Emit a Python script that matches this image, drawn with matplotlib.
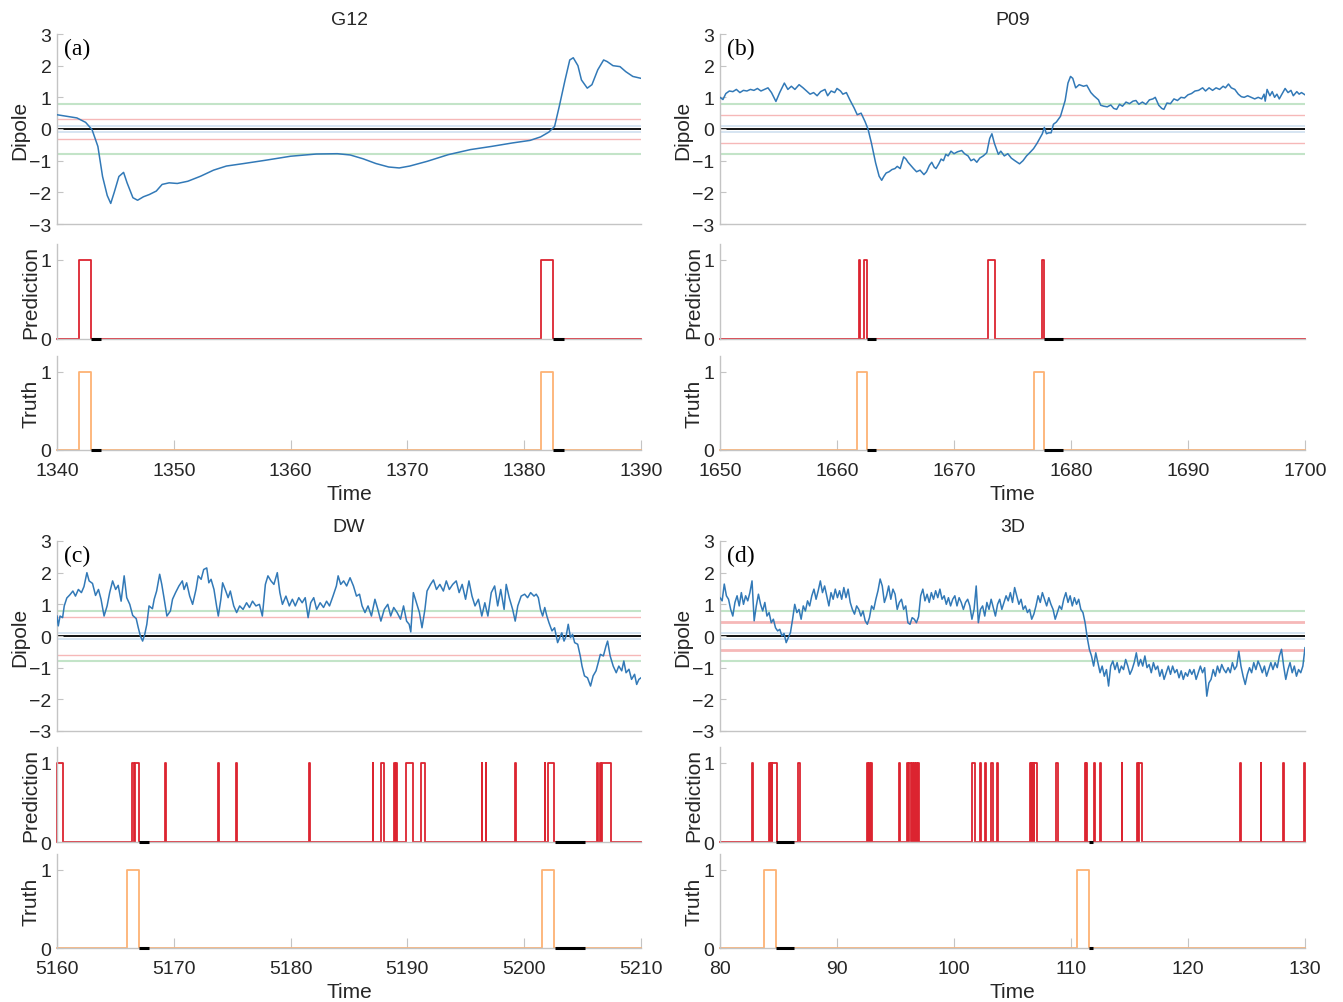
import numpy as np
import matplotlib
matplotlib.use("Agg")
import matplotlib.pyplot as plt

plt.rcParams['font.family'] = ['Liberation Sans', 'DejaVu Sans']

# ---- panel (a) G12 ----
t_a = [1340.0, 1341.7, 1342.45, 1343.0, 1343.5, 1343.9, 1344.3, 1344.6, 1344.9, 1345.3,
       1345.7, 1346.0, 1346.5, 1346.9, 1347.4, 1347.9, 1348.5, 1349.0, 1349.6, 1350.3,
       1351.2, 1352.3, 1353.4, 1354.5, 1356.0, 1357.8, 1360.0, 1362.2, 1364.0, 1365.1,
       1366.2, 1367.3, 1368.4, 1369.3, 1370.2, 1371.7, 1373.5, 1375.4, 1377.2, 1379.0,
       1380.5, 1381.4, 1382.1, 1382.6, 1383.0, 1383.5, 1383.9, 1384.2, 1384.6, 1384.9,
       1385.4, 1385.8, 1386.3, 1386.8, 1387.1, 1387.6, 1388.2, 1388.7, 1389.3, 1390.0]
dip_a = [0.45, 0.35, 0.21, -0.02, -0.55, -1.5, -2.1, -2.35, -2.0, -1.5,
         -1.37, -1.7, -2.17, -2.25, -2.14, -2.07, -1.96, -1.75, -1.7, -1.72,
         -1.65, -1.49, -1.3, -1.17, -1.09, -0.99, -0.86, -0.79, -0.78, -0.82,
         -0.94, -1.09, -1.2, -1.23, -1.17, -1.02, -0.81, -0.65, -0.55, -0.44,
         -0.36, -0.25, -0.1, 0.08, 0.71, 1.55, 2.18, 2.25, 2.0, 1.55,
         1.29, 1.4, 1.87, 2.18, 2.13, 2.0, 1.97, 1.81, 1.66, 1.6]
pred_a = [(1341.87, 1342.89), (1381.48, 1382.47)]
truth_a = [(1341.87, 1342.89), (1381.48, 1382.47)]
mark_a = [(1342.89, 1343.8), (1382.47, 1383.4)]

# ---- panel (b) P09 ----
t_b = [1650.0, 1650.25, 1650.5, 1650.8, 1651.1, 1651.4, 1651.7, 1652.0, 1652.3, 1652.6,
       1652.9, 1653.2, 1653.5, 1653.8, 1654.1, 1654.4, 1654.78, 1655.1, 1655.5, 1655.8,
       1656.1, 1656.4, 1656.76, 1657.1, 1657.4, 1657.7, 1658.0, 1658.3, 1658.6, 1658.97,
       1659.2, 1659.5, 1659.8, 1660.0, 1660.3, 1660.5, 1660.8, 1661.1, 1661.47, 1661.73,
       1662.06, 1662.39, 1662.65, 1662.94, 1663.3, 1663.6, 1663.82, 1664.0, 1664.2, 1664.45,
       1664.7, 1664.95, 1665.15, 1665.4, 1665.7, 1665.9, 1666.07, 1666.3, 1666.54, 1666.8,
       1667.1, 1667.43, 1667.65, 1667.9, 1668.1, 1668.3, 1668.46, 1668.7, 1668.9, 1669.1,
       1669.3, 1669.5, 1669.74, 1670.0, 1670.3, 1670.66, 1670.9, 1671.2, 1671.45, 1671.7,
       1671.95, 1672.2, 1672.5, 1672.8, 1673.05, 1673.24, 1673.45, 1673.79, 1674.0, 1674.3,
       1674.6, 1674.9, 1675.2, 1675.6, 1675.9, 1676.2, 1676.47, 1676.8, 1677.1, 1677.35,
       1677.55, 1677.72, 1677.9, 1678.1, 1678.3, 1678.5, 1678.75, 1679.1, 1679.5, 1679.74,
       1679.96, 1680.15, 1680.4, 1680.7, 1681.07, 1681.35, 1681.7, 1681.95, 1682.17, 1682.35,
       1682.54, 1682.8, 1683.1, 1683.4, 1683.65, 1683.9, 1684.15, 1684.4, 1684.7, 1685.0,
       1685.3, 1685.55, 1685.8, 1686.1, 1686.4, 1686.7, 1687.0, 1687.2, 1687.5, 1687.76,
       1687.94, 1688.2, 1688.5, 1688.8, 1689.1, 1689.4, 1689.7, 1690.0, 1690.3, 1690.6,
       1690.9, 1691.25, 1691.5, 1691.8, 1692.1, 1692.4, 1692.7, 1693.0, 1693.2, 1693.46,
       1693.7, 1694.0, 1694.3, 1694.56, 1694.8, 1695.1, 1695.4, 1695.7, 1696.0, 1696.3,
       1696.5, 1696.6, 1696.76, 1697.0, 1697.2, 1697.4, 1697.6, 1697.8, 1698.0, 1698.3,
       1698.55, 1698.8, 1699.0, 1699.3, 1699.5, 1699.7, 1700.0]
dip_b = [1.0, 0.93, 1.12, 1.2, 1.18, 1.25, 1.15, 1.22, 1.2, 1.25,
         1.22, 1.28, 1.2, 1.25, 1.3, 1.15, 0.87, 1.15, 1.45, 1.25,
         1.35, 1.25, 1.4, 1.3, 1.2, 1.1, 1.15, 1.05, 1.18, 1.25,
         1.05, 1.2, 1.15, 1.28, 1.2, 1.1, 1.15, 0.92, 0.66, 0.45,
         0.5, 0.24, 0.0, -0.44, -1.07, -1.49, -1.62, -1.5, -1.39, -1.35,
         -1.28, -1.25, -1.18, -1.25, -0.88, -0.95, -1.05, -1.15, -1.25, -1.35,
         -1.3, -1.44, -1.35, -1.15, -1.05, -1.2, -1.25, -1.1, -0.95, -1.0,
         -0.8, -0.85, -0.7, -0.78, -0.72, -0.68, -0.78, -0.85, -1.0, -0.95,
         -1.05, -0.92, -0.85, -0.75, -0.3, -0.15, -0.45, -0.8, -0.7, -0.85,
         -0.78, -0.92, -1.0, -1.1, -1.0, -0.85, -0.75, -0.62, -0.45, -0.28,
         -0.15, 0.05, -0.15, -0.12, -0.12, 0.15, 0.22, 0.4, 0.9, 1.45,
         1.66, 1.6, 1.3, 1.4, 1.35, 1.38, 1.15, 1.05, 0.98, 0.92,
         0.75, 0.72, 0.7, 0.76, 0.65, 0.62, 0.78, 0.72, 0.85, 0.8,
         0.88, 0.9, 0.78, 0.85, 0.78, 0.92, 0.95, 1.0, 0.75, 0.65,
         0.62, 0.82, 0.8, 0.95, 0.9, 1.0, 0.98, 1.08, 1.12, 1.2,
         1.22, 1.3, 1.2, 1.3, 1.22, 1.3, 1.25, 1.35, 1.3, 1.42,
         1.3, 1.25, 1.1, 1.02, 1.0, 1.05, 1.0, 0.95, 1.0, 0.95,
         1.1, 0.88, 1.25, 1.05, 1.18, 1.0, 1.1, 0.95, 1.08, 1.28,
         1.15, 1.22, 1.05, 1.18, 1.1, 1.15, 1.08]
pred_b = [(1661.84, 1661.99), (1662.35, 1662.57), (1672.94, 1673.53), (1677.5, 1677.65)]
truth_b = [(1661.7, 1662.57), (1676.84, 1677.72)]
mark_b = [(1662.57, 1663.3), (1677.65, 1679.3)]

# ---- panel (c) DW ----
t_c = [5160.00, 5160.11, 5160.26, 5160.48, 5160.62, 5160.84, 5161.10, 5161.36, 5161.58, 5161.83,
       5162.09, 5162.31, 5162.56, 5162.75, 5163.04, 5163.30, 5163.55, 5163.77, 5164.03, 5164.29,
       5164.51, 5164.76, 5165.02, 5165.24, 5165.49, 5165.75, 5165.97, 5166.23, 5166.48, 5166.78,
       5166.96, 5167.14, 5167.33, 5167.51, 5167.69, 5167.88, 5168.17, 5168.32, 5168.53, 5168.79,
       5168.97, 5169.16, 5169.41, 5169.71, 5169.89, 5170.15, 5170.44, 5170.73, 5170.88, 5171.10,
       5171.36, 5171.61, 5171.90, 5172.09, 5172.34, 5172.56, 5172.82, 5173.00, 5173.19, 5173.44,
       5173.66, 5173.81, 5174.03, 5174.18, 5174.40, 5174.65, 5174.84, 5175.13, 5175.38, 5175.64,
       5175.93, 5176.23, 5176.48, 5176.74, 5177.03, 5177.33, 5177.58, 5177.84, 5178.06, 5178.32,
       5178.57, 5178.86, 5179.08, 5179.30, 5179.60, 5179.89, 5180.15, 5180.40, 5180.70, 5180.99,
       5181.25, 5181.50, 5181.72, 5181.98, 5182.23, 5182.53, 5182.82, 5183.08, 5183.33, 5183.63,
       5183.92, 5184.07, 5184.29, 5184.54, 5184.80, 5185.09, 5185.38, 5185.64, 5185.90, 5186.12,
       5186.37, 5186.63, 5186.92, 5187.22, 5187.47, 5187.73, 5188.02, 5188.32, 5188.57, 5188.83,
       5189.12, 5189.41, 5189.67, 5189.93, 5190.15, 5190.29, 5190.51, 5190.77, 5191.03, 5191.25,
       5191.50, 5191.68, 5191.98, 5192.23, 5192.49, 5192.78, 5193.08, 5193.33, 5193.59, 5193.88,
       5194.18, 5194.43, 5194.69, 5194.98, 5195.27, 5195.53, 5195.79, 5196.08, 5196.37, 5196.63,
       5196.89, 5197.18, 5197.47, 5197.73, 5197.99, 5198.28, 5198.46, 5198.72, 5199.01, 5199.23,
       5199.45, 5199.74, 5200.04, 5200.29, 5200.55, 5200.84, 5201.03, 5201.21, 5201.39, 5201.58,
       5201.76, 5201.94, 5202.12, 5202.38, 5202.60, 5202.86, 5203.04, 5203.22, 5203.41, 5203.59,
       5203.77, 5203.96, 5204.14, 5204.32, 5204.58, 5204.80, 5204.95, 5205.16, 5205.42, 5205.68,
       5205.90, 5206.15, 5206.34, 5206.52, 5206.78, 5207.00, 5207.14, 5207.36, 5207.62, 5207.88,
       5208.10, 5208.35, 5208.53, 5208.72, 5208.97, 5209.19, 5209.45, 5209.63, 5209.82, 5210.00]
dip_c = [0.63, 0.32, 0.63, 0.58, 0.95, 1.2, 1.3, 1.42, 1.26, 1.47,
         1.37, 1.56, 2.0, 1.74, 1.66, 1.28, 1.47, 1.16, 0.63, 0.95,
         1.37, 1.74, 1.47, 1.6, 1.1, 1.9, 1.21, 1.0, 0.65, 0.55,
         0.26, 0.0, -0.16, 0.05, 0.37, 0.95, 0.86, 1.16, 1.42, 1.95,
         1.63, 1.21, 0.63, 0.79, 1.16, 1.37, 1.58, 1.74, 1.47, 1.68,
         1.26, 1.0, 1.47, 1.9, 1.79, 2.1, 2.15, 1.68, 1.79, 1.47,
         0.95, 0.63, 1.16, 1.68, 1.47, 1.21, 1.42, 0.95, 0.74, 0.95,
         0.84, 1.05, 0.9, 1.1, 0.95, 1.0, 0.63, 1.63, 1.9, 1.74,
         1.63, 2.0, 1.37, 1.0, 1.26, 0.95, 1.16, 0.95, 1.21, 1.05,
         1.21, 0.58, 1.05, 1.21, 0.84, 1.05, 0.9, 1.1, 0.95, 1.26,
         1.58, 1.9, 1.63, 1.74, 1.58, 1.84, 1.58, 1.26, 1.32, 0.95,
         0.74, 0.95, 0.63, 1.16, 0.84, 0.47, 0.84, 1.0, 0.63, 0.9,
         0.74, 0.53, 0.95, 0.47, 0.37, 0.13, 1.37, 1.05, 0.74, 0.26,
         0.84, 1.42, 1.63, 1.77, 1.47, 1.63, 1.42, 1.74, 1.47, 1.63,
         1.74, 1.37, 1.63, 1.16, 1.74, 1.26, 0.95, 1.16, 0.63, 1.05,
         0.63, 1.37, 1.58, 0.95, 1.47, 0.84, 1.63, 1.21, 0.84, 0.47,
         0.95, 1.26, 1.32, 1.21, 1.37, 1.26, 1.32, 1.21, 0.84, 0.63,
         0.9, 0.63, 0.42, 0.16, 0.26, -0.21, -0.05, 0.1, -0.16, 0.0,
         0.37, -0.05, 0.05, -0.21, -0.26, -0.63, -0.95, -1.26, -1.32, -1.58,
         -1.26, -1.1, -0.84, -0.58, -0.63, -0.32, -0.16, -0.63, -0.95, -1.16,
         -0.95, -1.1, -0.79, -1.16, -1.05, -1.37, -1.21, -1.53, -1.37, -1.32]
pred_c = [(5160.0, 5160.48), (5166.41, 5166.6), (5166.7, 5167.03), (5169.25, 5169.3),
          (5173.79, 5173.84), (5175.36, 5175.41), (5181.58, 5181.63), (5187.02, 5187.07),
          (5187.76, 5188.02), (5188.83, 5188.9), (5189.0, 5189.12), (5189.89, 5190.44),
          (5191.14, 5191.5), (5196.35, 5196.4), (5196.7, 5196.77), (5199.19, 5199.34),
          (5201.74, 5201.8), (5202.0, 5202.56), (5206.26, 5206.33), (5206.45, 5206.55),
          (5206.7, 5207.43)]
truth_c = [(5166.0, 5167.03), (5201.5, 5202.56)]
mark_c = [(5167.03, 5167.85), (5202.6, 5205.2)]

# ---- panel (d) 3D ----
dip_d = [1.21, 1.11, 1.64, 1.27, 1.16, 0.84, 0.63, 1.06, 1.27, 0.95, 1.37, 1.0, 1.27, 1.11, 1.37,
         1.74, 0.48, 0.95, 1.32, 1.0, 0.79, 1.06, 0.63, 0.74, 0.42, 0.53, 0.26, 0.16, 0.21, 0.0,
         0.08, -0.21, -0.05, 0.11, 0.53, 1.0, 0.74, 0.84, 0.53, 0.95, 0.79, 1.11, 0.95, 1.27, 1.48,
         1.16, 1.43, 1.74, 1.37, 1.58, 1.27, 0.95, 1.37, 1.16, 1.48, 1.21, 1.43, 1.16, 1.53, 1.21,
         1.48, 1.06, 0.84, 0.69, 0.95, 0.84, 0.63, 0.79, 0.48, 0.37, 0.58, 0.95, 0.84, 1.16, 1.43,
         1.8, 1.58, 1.06, 1.27, 1.58, 1.16, 1.48, 1.32, 0.84, 1.06, 1.16, 0.84, 0.95, 0.42, 0.37,
         0.58, 0.53, 0.42, 0.61, 1.27, 1.48, 1.11, 1.32, 1.06, 1.37, 1.16, 1.43, 1.21, 1.48, 1.16,
         1.27, 1.0, 1.21, 0.95, 1.16, 1.27, 0.95, 1.21, 1.06, 0.84, 1.06, 1.16, 0.95, 0.53, 0.84,
         1.58, 0.42, 0.84, 0.95, 0.63, 1.06, 0.84, 1.16, 0.9, 0.63, 1.0, 1.16, 0.84, 1.06, 1.27,
         1.11, 1.37, 1.06, 1.53, 1.27, 1.0, 1.16, 0.84, 0.95, 0.74, 0.84, 0.53, 0.69, 0.95, 1.27,
         1.06, 1.37, 1.16, 0.95, 1.21, 1.0, 0.84, 0.53, 0.74, 0.95, 0.84, 1.16, 1.37, 1.06, 1.27,
         0.95, 1.21, 1.0, 1.16, 0.84, 0.74, 0.42, -0.05, -0.42, -0.63, -0.95, -0.53, -0.84, -1.16,
         -0.95, -1.27, -1.06, -1.58, -0.95, -0.79, -1.06, -0.84, -1.16, -0.95, -1.06, -0.74, -0.95,
         -1.21, -1.06, -0.84, -0.53, -0.95, -0.74, -0.95, -0.63, -1.0, -0.9, -1.16, -0.84, -1.06,
         -0.95, -1.27, -1.06, -1.37, -1.16, -0.95, -1.21, -0.95, -1.16, -1.06, -1.32, -1.1, -1.37,
         -1.16, -1.27, -1.06, -1.21, -1.06, -1.37, -1.16, -0.95, -1.16, -1.0, -1.9, -1.48, -1.37,
         -1.06, -1.27, -0.95, -1.16, -0.9, -1.06, -1.16, -1.0, -1.16, -0.84, -1.06, -0.95, -0.48,
         -0.95, -1.27, -1.53, -1.21, -1.0, -1.16, -0.84, -1.06, -0.79, -0.95, -1.16, -0.95, -1.27,
         -1.06, -0.84, -1.06, -0.84, -1.0, -0.63, -0.42, -0.95, -1.37, -1.06, -0.84, -1.16, -0.95,
         -1.27, -1.06, -1.16, -0.95, -0.37]
t_d = np.linspace(80, 130, len(dip_d))
pred_d = [(82.74, 82.8), (84.19, 84.26), (84.33, 84.41), (84.48, 84.85), (86.67, 86.84),
          (92.57, 92.65), (92.72, 92.8), (92.9, 93.01), (95.26, 95.4),
          (95.96, 96.05), (96.15, 96.3), (96.38, 96.5), (96.55, 96.68), (96.75, 96.85), (96.9, 96.99),
          (101.58, 101.76), (102.2, 102.31), (102.66, 102.71), (103.2, 103.3), (103.66, 103.78),
          (106.5, 106.58), (106.62, 106.7), (106.74, 106.82), (106.86, 107.06), (108.68, 108.86),
          (111.21, 111.25), (111.32, 111.4), (111.98, 112.03), (112.5, 112.55), (114.34, 114.39),
          (115.66, 115.76), (115.85, 116.03), (124.45, 124.5), (126.21, 126.26), (128.12, 128.24),
          (129.95, 130.0)]
truth_d = [(83.79, 84.82), (110.48, 111.51)]
mark_d = [(84.82, 86.3), (111.51, 111.9)]

panels = [
    dict(title="G12", tag="(a)", t=t_a, dip=dip_a, pred=pred_a, truth=truth_a, mark=mark_a,
         lim=(1340, 1390), thr=0.33, thr_lw=1.0, col=0, row=0),
    dict(title="P09", tag="(b)", t=t_b, dip=dip_b, pred=pred_b, truth=truth_b, mark=mark_b,
         lim=(1650, 1700), thr=0.44, thr_lw=1.0, col=1, row=0),
    dict(title="DW", tag="(c)", t=t_c, dip=dip_c, pred=pred_c, truth=truth_c, mark=mark_c,
         lim=(5160, 5210), thr=0.6, thr_lw=1.0, col=0, row=1),
    dict(title="3D", tag="(d)", t=t_d, dip=dip_d, pred=pred_d, truth=truth_d, mark=mark_d,
         lim=(80, 130), thr=0.45, thr_lw=2.0, col=1, row=1),
]

BLUE = '#3279b7'
RED = '#dc2430'
ORANGE = '#fdb274'
GRAY = '#c4c4c4'
TXT = '#262626'

W, H = 1343, 1003
fig = plt.figure(figsize=(W / 100, H / 100), dpi=100)

col_x = [57, 720]
col_w = [584, 585]
# (top, bottom) in pixels for dipole / prediction / truth
row_y = [[(35, 225), (245, 340), (357, 451)],
         [(542, 732), (748, 843), (855, 949)]]


def add_ax(col, top, bot):
    return fig.add_axes([col_x[col] / W, 1 - bot / H, col_w[col] / W, (bot - top) / H])


def style(ax):
    for s in ['top', 'right']:
        ax.spines[s].set_visible(False)
    for s in ['left', 'bottom']:
        ax.spines[s].set_color(GRAY)
        ax.spines[s].set_linewidth(1.0)
    ax.tick_params(direction='in', length=4, color=GRAY, labelcolor=TXT, labelsize=14, pad=4)


def step(ax, intervals, lo, hi, color):
    xs, ys = [lo], [0]
    for s, e in intervals:
        xs += [s, s, e, e]
        ys += [0, 1, 1, 0]
    xs.append(hi)
    ys.append(0)
    ax.plot(xs, ys, color=color, lw=1.3, clip_on=False, zorder=2)


for p in panels:
    c, r = p['col'], p['row']
    (t1, b1), (t2, b2), (t3, b3) = row_y[r]
    lo, hi = p['lim']

    ax1 = add_ax(c, t1, b1)
    style(ax1)
    for v in (0.1, -0.1):
        ax1.axhline(v, color='#cfe0f0', lw=1.2, zorder=1)
    for v in (0.8, -0.8):
        ax1.axhline(v, color='#c3e4c8', lw=1.5, zorder=1)
    for v in (p['thr'], -p['thr']):
        ax1.axhline(v, color='#f6b8b8', lw=p['thr_lw'], zorder=1)
    ax1.axhline(0, color='black', lw=1.3, zorder=1)
    ax1.plot(p['t'], p['dip'], color=BLUE, lw=1.1, zorder=3)
    ax1.set_xlim(lo, hi)
    ax1.set_ylim(-3, 3)
    ax1.set_yticks([-3, -2, -1, 0, 1, 2, 3])
    ax1.tick_params(axis='x', bottom=False, labelbottom=False)
    ax1.set_ylabel("Dipole", fontsize=15, color=TXT, labelpad=0)
    ax1.set_title(p['title'], fontsize=14, color=TXT, pad=7)
    ax1.text(0.012, 0.98, p['tag'], transform=ax1.transAxes, va='top', ha='left',
             fontsize=17, family='Liberation Serif', color='black')

    ax2 = add_ax(c, t2, b2)
    style(ax2)
    step(ax2, p['pred'], lo, hi, RED)
    ax2.hlines([0] * len(p['mark']), [m[0] for m in p['mark']], [m[1] for m in p['mark']],
               color='black', lw=2.2, zorder=4, clip_on=False)
    ax2.set_xlim(lo, hi)
    ax2.set_ylim(0, 1.2)
    ax2.set_yticks([0, 1])
    ax2.tick_params(axis='x', bottom=False, labelbottom=False)
    ax2.set_ylabel("Prediction", fontsize=15, color=TXT, labelpad=0)

    ax3 = add_ax(c, t3, b3)
    style(ax3)
    step(ax3, p['truth'], lo, hi, ORANGE)
    ax3.hlines([0] * len(p['mark']), [m[0] for m in p['mark']], [m[1] for m in p['mark']],
               color='black', lw=2.2, zorder=4, clip_on=False)
    ax3.set_xlim(lo, hi)
    ax3.set_ylim(0, 1.2)
    ax3.set_yticks([0, 1])
    ax3.set_xticks(np.linspace(lo, hi, 6))
    ax3.tick_params(axis='x', length=7, pad=9)
    ax3.set_ylabel("Truth", fontsize=15, color=TXT, labelpad=0)
    ax3.set_xlabel("Time", fontsize=15, color=TXT, labelpad=3)

fig.savefig("out.png", dpi=100)
